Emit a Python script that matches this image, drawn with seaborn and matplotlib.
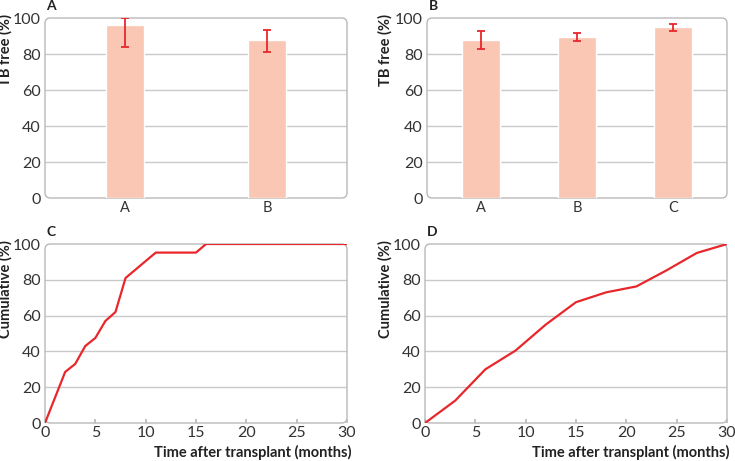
# tb_panels.py
# four-panel figure: TB free bars (A, B) and cumulative curves (C, D)

import pandas as pd
import numpy as np
import matplotlib
matplotlib.use("Agg")
import matplotlib.pyplot as plt
from matplotlib.patches import FancyBboxPatch
import seaborn as sns

# panel A
a_groups = ["A", "B"]
a_values = [96, 88]
a_low = [84, 81]
a_high = [100, 93.5]

# panel B
b_groups = ["A", "B", "C"]
b_values = [87.8, 89.5, 94.8]
b_low = [82.8, 87.0, 92.8]
b_high = [92.5, 91.8, 96.8]

# panel C
c_months = [0, 2, 3, 4, 5, 6, 7, 8, 11, 15, 16, 30]
c_cum = [0, 28.5, 33, 43, 47.5, 57, 62, 81, 95.2, 95.2, 100, 100]

# panel D
d_months = [0, 3, 6, 9, 12, 15, 18, 21, 24, 27, 30]
d_cum = [0, 12.5, 30, 40.5, 55, 67.5, 73, 76.3, 85.3, 95, 100]

BAR = "#f9c7b3"
RED = "#e8272c"
FRAME = "#b9b9b9"
GRID = "#c9c9c9"
TXT = "#333333"

sns.set_theme(style="white")
plt.rcParams["font.family"] = ["Lato", "DejaVu Sans"]
plt.rcParams["font.size"] = 10

W, H = 735, 461
fig = plt.figure(figsize=(W / 100, H / 100), dpi=100)


def add_ax(l, r, t, b):
    return fig.add_axes([l / W, 1 - b / H, (r - l) / W, (b - t) / H])


def px_x(ax, px):
    # figure pixel x -> axes fraction
    l = ax.get_position().x0 * W
    return (px - l) / (ax.get_position().width * W)


def px_y(ax, px):
    # figure pixel y (from top) -> axes fraction
    b = (1 - ax.get_position().y0) * H
    return (b - px) / (ax.get_position().height * H)


def style(ax, letter, ylabel, label_x):
    for s in ax.spines.values():
        s.set_visible(False)
    ax.set_ylim(0, 100)
    ax.set_yticks([0, 20, 40, 60, 80, 100])
    for y in [20, 40, 60, 80]:
        ax.axhline(y, color=GRID, lw=1, zorder=0)
    # rounded frame
    box = FancyBboxPatch((0, 0), 1, 1, boxstyle="round,pad=0,rounding_size=0.018",
                         transform=ax.transAxes, mutation_aspect=ax.bbox.width / ax.bbox.height,
                         fill=False, ec=FRAME, lw=1, clip_on=False, zorder=1)
    ax.add_patch(box)
    ax.set_ylabel(ylabel, loc="top", fontweight="bold", color="#222222", fontsize=10.5)
    # label_x is the right edge of the rotated label, in figure pixels
    ax.yaxis.set_label_coords(px_x(ax, label_x), 1.02)
    ax.tick_params(axis="y", length=0, labelcolor=TXT, labelsize=11.5, pad=3)
    ax.text(0.005, 1.035, letter, transform=ax.transAxes, fontweight="bold",
            fontsize=10, color="#222222", va="bottom", ha="left")


def bar_panel(ax, groups, vals, lo, hi, letter, width, label_x):
    df = pd.DataFrame({"group": groups, "value": vals})
    sns.barplot(data=df, x="group", y="value", color=BAR, width=width,
                saturation=1, errorbar=None, ax=ax, zorder=2)
    x = np.arange(len(groups))
    err = [np.array(vals) - np.array(lo), np.array(hi) - np.array(vals)]
    ax.errorbar(x, vals, yerr=err, fmt="none", ecolor=RED, elinewidth=1.3,
                capsize=3, capthick=1.3, zorder=3)
    style(ax, letter, "TB free (%)", label_x)
    ax.set_xlabel("")
    ax.set_xlim(-0.565, len(groups) - 1 + 0.565)
    ax.tick_params(axis="x", length=0, labelcolor=TXT, labelsize=10.5, pad=2)


def line_panel(ax, months, cum, letter, label_x, xlabel_right):
    df = pd.DataFrame({"month": months, "cum": cum})
    sns.lineplot(data=df, x="month", y="cum", color=RED, lw=1.6, ax=ax, zorder=3)
    style(ax, letter, "Cumulative (%)", label_x)
    ax.set_xlim(0, 30)
    ax.set_xticks([0, 5, 10, 15, 20, 25, 30])
    ax.tick_params(axis="x", direction="in", length=3, color=FRAME, labelcolor=TXT,
                   labelsize=11.5, pad=2, bottom=True)
    ax.set_xlabel("Time after transplant (months)", fontweight="bold",
                  color="#222222", fontsize=10.5, ha="right", va="center")
    ax.xaxis.set_label_coords(px_x(ax, xlabel_right), px_y(ax, 452))


ax_a = add_ax(45, 347, 18, 198)
bar_panel(ax_a, a_groups, a_values, a_low, a_high, "A", 0.27, 13)

ax_b = add_ax(427, 727, 18, 198)
bar_panel(ax_b, b_groups, b_values, b_low, b_high, "B", 0.39, 393)

ax_c = add_ax(45, 347, 244, 423)
line_panel(ax_c, c_months, c_cum, "C", 13, 352)

ax_d = add_ax(425, 727, 244, 423)
line_panel(ax_d, d_months, d_cum, "D", 393, 729)

fig.savefig("out.png", dpi=100, facecolor="white")
plt.close(fig)
